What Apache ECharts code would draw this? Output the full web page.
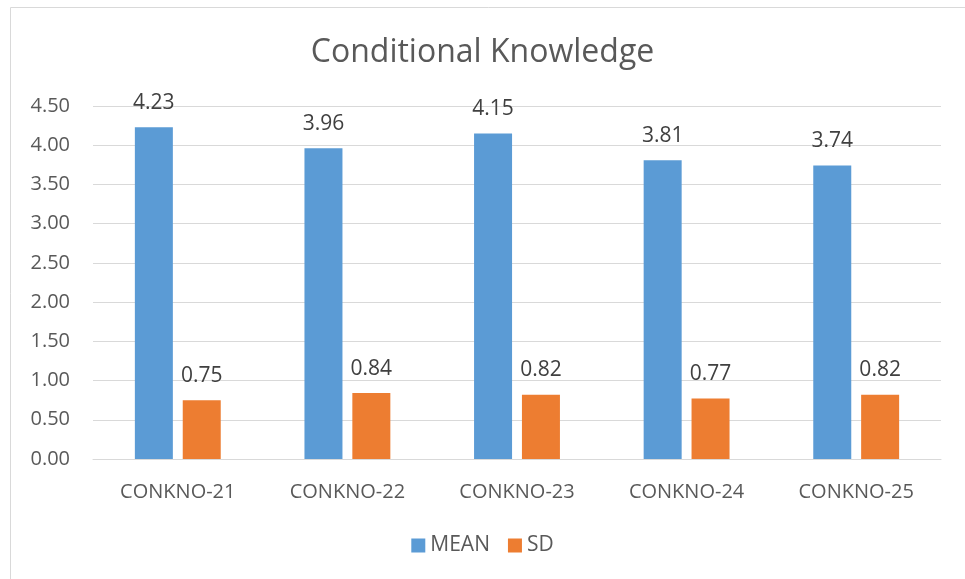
<!DOCTYPE html>
<html lang="en">
    <head>
        <meta charset="UTF-8" />
        <script src="https://cdn.jsdelivr.net/npm/echarts@6/dist/echarts.min.js"></script>
        <title>Conditional Knowledge</title>
        <style>
            body {
                margin: 0;
                background: #fff;
            }

            #chart {
                width: 965px;
                height: 579px;
            }
        </style>
    </head>

    <body>
        <div id="chart"></div>
        <script type="text/javascript">
            var categories = ["CONKNO-21", "CONKNO-22", "CONKNO-23", "CONKNO-24", "CONKNO-25"];
            var meanValues = [4.23, 3.96, 4.15, 3.81, 3.74];
            var sdValues = [0.75, 0.84, 0.82, 0.77, 0.82];

            var font = "'Open Sans', 'Noto Sans', sans-serif";
            var myChart = echarts.init(document.getElementById("chart"));

            var labelStyle = {
                show: true,
                position: "top",
                distance: 14,
                fontSize: 21,
                fontFamily: font,
                color: "#404040",
                formatter: function (p) {
                    return p.value.toFixed(2);
                },
            };

            var option = {
                animation: false,
                graphic: [
                    {
                        type: "rect",
                        shape: { x: 10.5, y: 7.5, width: 970, height: 600 },
                        style: { fill: "none", stroke: "#D9D9D9", lineWidth: 1 },
                        silent: true,
                    },
                ],
                title: {
                    text: "Conditional Knowledge",
                    left: "center",
                    top: 32,
                    textStyle: {
                        fontSize: 32,
                        fontWeight: "normal",
                        fontFamily: font,
                        color: "#595959",
                    },
                },
                legend: {
                    bottom: 18,
                    left: "center",
                    icon: "rect",
                    itemWidth: 14,
                    itemHeight: 14,
                    itemGap: 18,
                    textStyle: {
                        fontSize: 21,
                        fontFamily: font,
                        color: "#595959",
                    },
                    data: ["MEAN", "SD"],
                },
                grid: {
                    left: 93,
                    right: 24,
                    top: 106,
                    bottom: 120,
                    containLabel: false,
                },
                xAxis: {
                    type: "category",
                    data: categories,
                    axisTick: { show: false },
                    axisLine: { lineStyle: { color: "#D9D9D9", width: 1 } },
                    axisLabel: {
                        fontSize: 20,
                        fontFamily: font,
                        color: "#595959",
                        margin: 23,
                    },
                },
                yAxis: {
                    type: "value",
                    min: 0,
                    max: 4.5,
                    interval: 0.5,
                    axisLine: { show: false },
                    axisTick: { show: false },
                    splitLine: { lineStyle: { color: "#D9D9D9", width: 1 } },
                    axisLabel: {
                        fontSize: 20,
                        fontFamily: font,
                        color: "#595959",
                        margin: 23,
                        formatter: function (v) {
                            return v.toFixed(2);
                        },
                    },
                },
                series: [
                    {
                        name: "MEAN",
                        type: "bar",
                        data: meanValues,
                        barWidth: 38,
                        barGap: "26%",
                        itemStyle: { color: "#5B9BD5" },
                        label: labelStyle,
                    },
                    {
                        name: "SD",
                        type: "bar",
                        data: sdValues,
                        barWidth: 38,
                        itemStyle: { color: "#ED7D31" },
                        label: labelStyle,
                    },
                ],
            };

            myChart.setOption(option);
        </script>
    </body>
</html>
